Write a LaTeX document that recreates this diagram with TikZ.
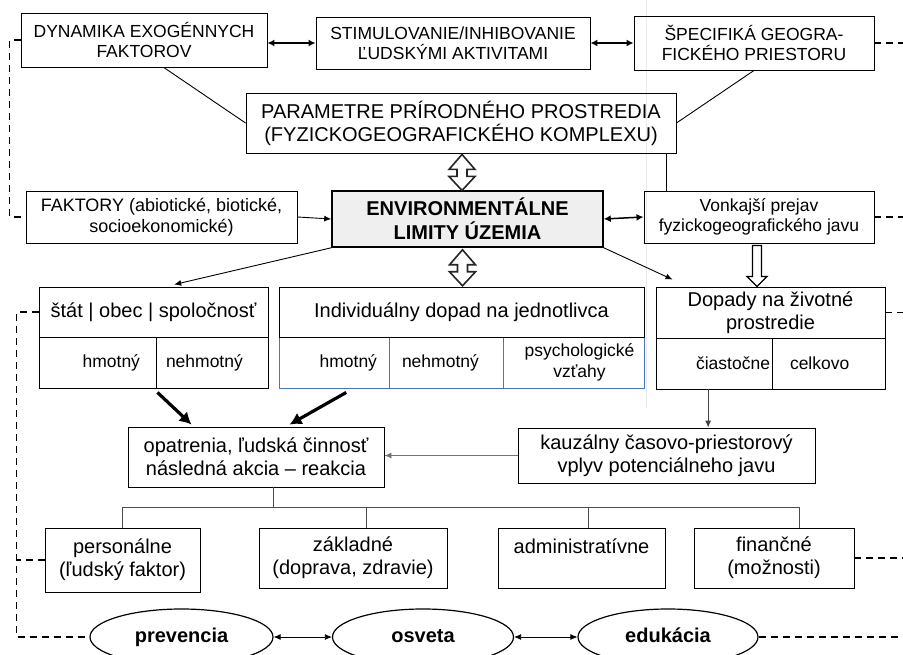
\documentclass[tikz,border=0pt]{standalone}
\usepackage{fontspec}
\setmainfont{Liberation Sans}
\usetikzlibrary{shapes.geometric, arrows.meta, calc}

\definecolor{envgray}{HTML}{EFEFEF}
\definecolor{cellblue}{HTML}{4A76B8}

\tikzset{
    box/.style={draw, line width=0.9pt, inner sep=0pt, align=center,
        font=\fontsize{20}{23}\selectfont},
    sbox/.style={box, font=\fontsize{17.5}{20.5}\selectfont},
    cell/.style={sbox, minimum height=51pt},
    bluecell/.style={cell, draw=cellblue},
    oval/.style={draw, ellipse, line width=1.2pt, inner sep=0pt, minimum height=56pt,
        text height=14pt, text depth=4pt, font=\fontsize{20}{23}\selectfont\bfseries},
    link/.style={line width=0.9pt},
    arr/.style={link, -{Latex[length=7pt,width=6pt]}},
    dblarr/.style={line width=1.5pt, {Latex[length=7pt,width=7pt]}-{Latex[length=7pt,width=7pt]}},
    thinarr/.style={line width=0.8pt, {Latex[length=7pt,width=6pt]}-{Latex[length=7pt,width=6pt]}},
    bigarr/.style={line width=3.2pt, -{Latex[length=12pt,width=13pt]}},
    hollow/.style={draw=black!85, fill=white, line width=1.6pt, line join=miter},
    dashline/.style={line width=1.2pt, dash pattern=on 7pt off 5pt},
    tree/.style={line width=0.9pt, draw=black!70},
}

\begin{document}
\begin{tikzpicture}[x=1pt, y=-1pt]
    \useasboundingbox (0,0) rectangle (903,655);
    \clip (0,0) rectangle (903,655);
    \coordinate (rb) at (903,0);
    \draw[black!8, line width=1pt] (646,0) -- (646,408);

    % top row
    \node[sbox, minimum width=246pt, minimum height=54pt] (dyn) at (144,40) {DYNAMIKA EXOGÉNNYCH\\FAKTOROV};
    \node[sbox, minimum width=274pt, minimum height=52pt] (stim) at (453,43) {STIMULOVANIE/INHIBOVANIE\\ĽUDSKÝMI AKTIVITAMI};
    \node[sbox, minimum width=240pt, minimum height=54pt] (spec) at (754,43) {ŠPECIFIKÁ GEOGRA-\\FICKÉHO PRIESTORU};
    \node[box, minimum width=430pt, minimum height=60pt] (par) at (461,123) {PARAMETRE PRÍRODNÉHO PROSTREDIA\\(FYZICKOGEOGRAFICKÉHO KOMPLEXU)};

    % middle row
    \node[box, minimum width=271pt, minimum height=52pt, font=\fontsize{18}{21}\selectfont] (fak) at (161.5,217) {FAKTORY (abiotické, biotické,\\socioekonomické)};
    \node[box, fill=envgray, line width=1.6pt, minimum width=271pt, minimum height=56pt,
        font=\fontsize{20}{24}\selectfont\bfseries] (env) at (467.5,219) {ENVIRONMENTÁLNE\\LIMITY ÚZEMIA};
    \node[sbox, minimum width=230pt, minimum height=52pt] (vonk) at (759,217) {Vonkajší prejav\\fyzickogeografického javu};

    % impact boxes
    \node[cell, minimum width=117pt, text width=85pt, align=right] (stathm) at (97.5,362.5) {hmotný};
    \node[cell, minimum width=112pt, text width=92pt, align=left] (statnh) at (212,362.5) {nehmotný};
    \node[box, minimum width=229pt, minimum height=50pt] (stat) at (153.5,312) {štát | obec | spoločnosť};

    \node[bluecell, minimum width=110pt, text width=86pt, align=right] (indhm) at (334,362.5) {hmotný};
    \node[bluecell, minimum width=114pt, text width=88pt, align=left] (indnh) at (446,362.5) {nehmotný};
    \node[bluecell, minimum width=141pt] (indps) at (573.5,362.5) {\hspace*{12pt}psychologické\\\hspace*{12pt}vzťahy};
    \node[box, minimum width=365pt, minimum height=50pt] (ind) at (461.5,312) {Individuálny dopad na jednotlivca};

    \node[cell, minimum width=116pt, text width=112pt, align=right] (dopcz) at (714,363.5) {čiastočne};
    \node[cell, minimum width=113pt, text width=77pt, align=left] (dopcl) at (828.5,363.5) {celkovo};
    \node[box, minimum width=229pt, minimum height=51pt] (dop) at (770.5,312.5) {Dopady na životné\\prostredie};

    % measures
    \node[box, minimum width=256pt, minimum height=60pt] (opat) at (256,457) {opatrenia, ľudská činnosť\\následná akcia – reakcia};
    \node[box, minimum width=297pt, minimum height=55pt] (kauz) at (666.5,455.5) {kauzálny časovo-priestorový\\vplyv potenciálneho javu};

    \node[box, minimum width=155pt, minimum height=64pt] (per) at (122.5,560) {personálne\\(ľudský faktor)};
    \node[box, minimum width=188pt, minimum height=60pt] (zak) at (353,558) {základné\\(doprava, zdravie)};
    \node[box, minimum width=167pt, minimum height=60pt] (adm) at (581.5,558) {administratívne\\\mbox{}};
    \node[box, minimum width=160pt, minimum height=60pt] (fin) at (774,558) {finančné\\(možnosti)};

    \node[oval, minimum width=183pt] (prev) at (181.5,637) {prevencia};
    \node[oval, minimum width=181pt] (osv) at (423,637) {osveta};
    \node[oval, minimum width=180pt] (edu) at (668,637) {edukácia};

    % connectors
    \draw[dblarr] (dyn.east |- stim.west) -- (stim.west);
    \draw[dblarr] (stim.east) -- (spec.west);
    \draw[link] ($(dyn.south west)!.58!(dyn.south east)$) -- (par.west);
    \draw[link] (spec.south) -- (par.east);
    \coordinate (pv) at ($(par.south west)!.977!(par.south east)$);
    \draw[link] (pv) -- (pv |- vonk.north);

    \draw[arr] (fak.east) -- (env.west);
    \draw[dblarr] (env.east) -- (vonk.west);
    \draw[arr] (env.south west) -- ($($(stat.north west)!.59!(stat.north east)$)+(0,-2)$);
    \draw[arr] (env.south east) -- ($(dop.north west)+(17,-7)$);

    % hollow arrows
    \draw[hollow] ($(par.south)+(1,1)$) -- ++(13,15) -- ++(-8,0) -- ++(0,7) -- ++(8,0)
        -- ++(-13,14) -- ++(-13,-14) -- ++(8,0) -- ++(0,-7) -- ++(-8,0) -- cycle;
    \draw[hollow] ($(env.south)+(-5,2)$) -- ++(13,15) -- ++(-8,0) -- ++(0,7) -- ++(8,0)
        -- ++(-13,14) -- ++(-13,-14) -- ++(8,0) -- ++(0,-7) -- ++(-8,0) -- cycle;
    \draw[hollow, draw=black, line width=1.3pt] ($(vonk.south)+(-6.5,2)$) -- ++(9,0) -- ++(0,31)
        -- ++(5.5,0) -- ++(-10,10) -- ++(-10,-10) -- ++(5.5,0) -- cycle;

    \draw[bigarr] ($(stathm.south east)+(1,4)$) -- ($(opat.north west)+(64,-2)$);
    \draw[bigarr] ($($(indhm.south west)!.61!(indhm.south east)$)+(0,4)$) -- ($(opat.north west)+(162,-2)$);

    \coordinate (dk) at ($(dopcz.south west)!.45!(dopcz.south east)$);
    \draw[arr, black!75] (dk) -- (dk |- kauz.north);
    \draw[arr, black!55] (kauz.west) -- (kauz.west -| opat.east);

    % tree of measures
    \coordinate (tr) at ($(opat.south west)!.566!(opat.south east)$);
    \draw[tree] (tr) -- ++(0,20) coordinate (tj);
    \foreach \n/\f in {per/.5, zak/.57, adm/.54, fin/.656}
        \draw[tree] ($(\n.north west)!\f!(\n.north east)$) |- (tj);

    \draw[thinarr] (prev.east) -- (osv.west);
    \draw[thinarr] (osv.east) -- (edu.west);

    % dashed feedback lines
    \draw[dashline] (dyn.west) -- ++(-11,0) |- (fak.west);
    \draw[dashline] (stat.west) -- ++(-22,0) coordinate (lx) |- (prev.west);
    \draw[dashline] (per.west) -- (per.west -| lx);
    \foreach \n in {spec, vonk, dop, fin, edu}
        \draw[dashline] (\n.east) -- (\n.east -| rb);
\end{tikzpicture}
\end{document}
